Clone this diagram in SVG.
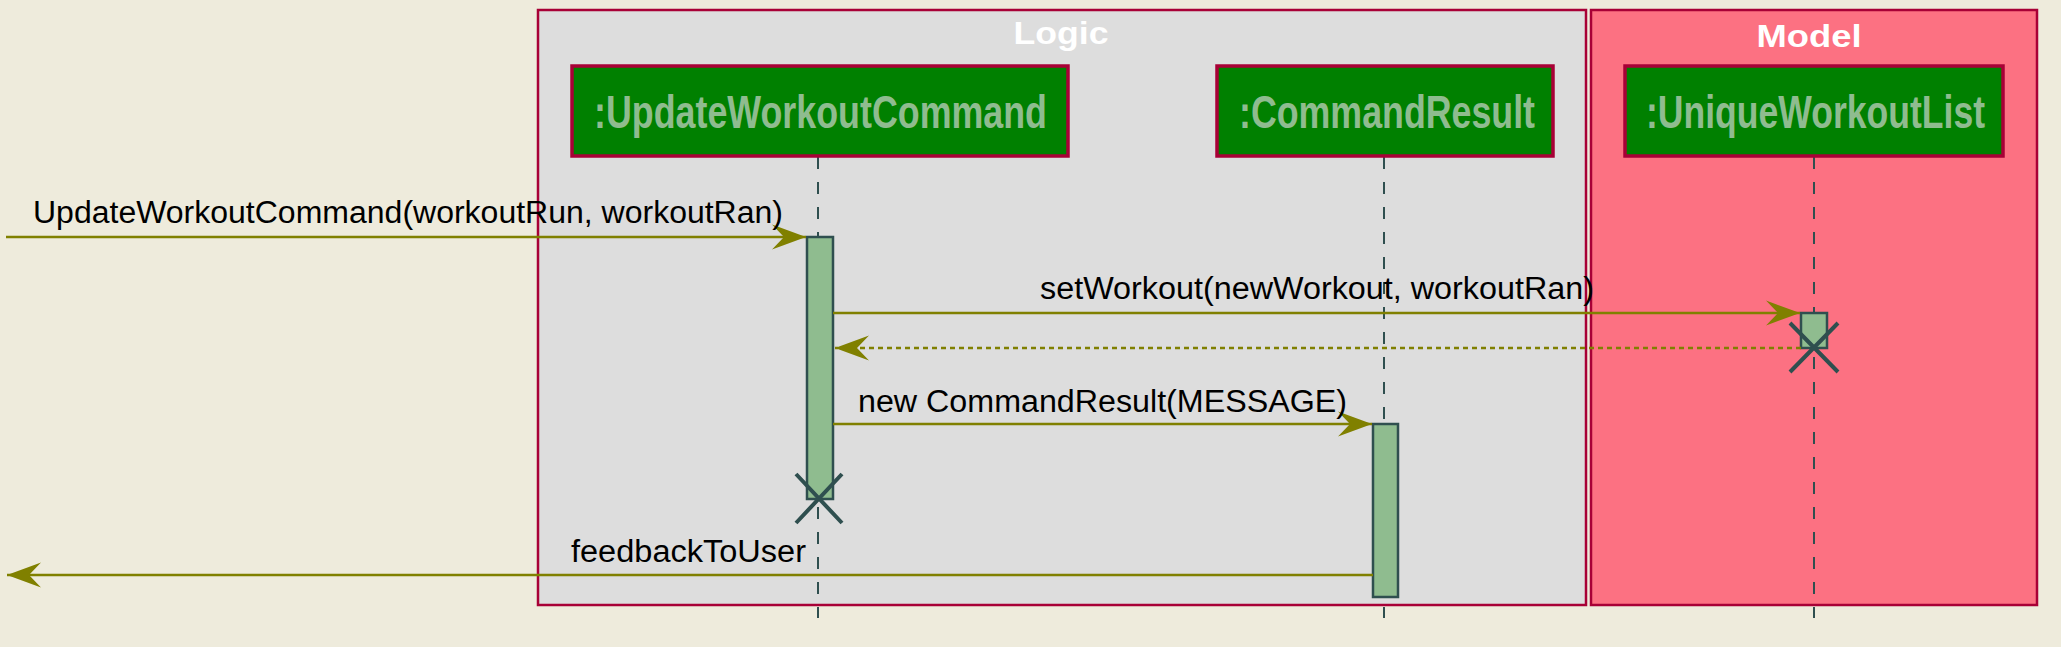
<svg xmlns="http://www.w3.org/2000/svg" width="2061" height="647" viewBox="0 0 2061 647">
  <style>
    .frame { stroke: #A80036; stroke-width: 2.5; }
    .ftitle { font-family: "Liberation Sans", Arial, sans-serif; font-weight: bold; font-size: 31px; fill: #FFFFFF; text-anchor: middle; }
    .pbox { fill: #008000; stroke: #A80036; stroke-width: 3.5; }
    .pname { font-family: "Liberation Sans", Arial, sans-serif; font-weight: bold; font-size: 34px; fill: #8FBC8F; }
    .life { stroke: #2F4F4F; stroke-width: 2; stroke-dasharray: 12 13; fill: none; }
    .act { fill: #8FBC8F; stroke: #2F4F4F; stroke-width: 2.5; }
    .kill { stroke: #2F4F4F; stroke-width: 4; fill: none; }
    .msg { stroke: #808000; stroke-width: 2.5; fill: none; marker-end: url(#ah); }
    .ret { stroke-dasharray: 5 4; }
    .mtext { font-family: "Liberation Sans", Arial, sans-serif; font-size: 31px; fill: #000000; }
  </style>
  <defs>
    <marker id="ah" markerUnits="userSpaceOnUse" markerWidth="40" markerHeight="30" viewBox="-36 -15 40 30" refX="0" refY="0" orient="auto">
      <path d="M0,0 L-34,-12.5 L-22,0 L-34,12.5 Z" fill="#808000"/>
    </marker>
  </defs>

  <rect x="0" y="0" width="2061" height="647" fill="#EEEBDC"/>

  <g id="group-logic">
    <rect class="frame" x="538" y="10" width="1048" height="595" fill="#DDDDDD"/>
    <text class="ftitle" x="1061" y="44" textLength="95" lengthAdjust="spacingAndGlyphs">Logic</text>
  </g>
  <g id="group-model">
    <rect class="frame" x="1591" y="10" width="446" height="595" fill="#FC7182"/>
    <text class="ftitle" x="1809" y="47" textLength="105" lengthAdjust="spacingAndGlyphs">Model</text>
  </g>

  <g id="lifelines">
    <line class="life" x1="818" y1="157" x2="818" y2="618"/>
    <line class="life" x1="1384" y1="157" x2="1384" y2="618"/>
    <line class="life" x1="1814" y1="157" x2="1814" y2="618"/>
  </g>

  <g id="node-updateworkoutcommand">
    <rect class="pbox" x="572" y="66" width="496" height="90"/>
    <text class="pname" transform="translate(594,128) scale(1,1.35)" x="0" y="0" textLength="453" lengthAdjust="spacingAndGlyphs">:UpdateWorkoutCommand</text>
    <rect class="act" x="807" y="237" width="26" height="262"/>
    <path class="kill" d="M796,474 L842,523 M842,474 L796,523"/>
  </g>

  <g id="node-commandresult">
    <rect class="pbox" x="1217" y="66" width="336" height="90"/>
    <text class="pname" transform="translate(1239,128) scale(1,1.35)" x="0" y="0" textLength="296" lengthAdjust="spacingAndGlyphs">:CommandResult</text>
    <rect class="act" x="1373" y="424" width="25" height="173"/>
  </g>

  <g id="node-uniqueworkoutlist">
    <rect class="pbox" x="1625" y="66" width="378" height="90"/>
    <text class="pname" transform="translate(1646,128) scale(1,1.35)" x="0" y="0" textLength="339" lengthAdjust="spacingAndGlyphs">:UniqueWorkoutList</text>
    <rect class="act" x="1801" y="313" width="26" height="35"/>
    <path class="kill" d="M1790,323 L1838,372 M1838,323 L1790,372"/>
  </g>

  <g id="connectors">
    <line class="msg" x1="6" y1="237" x2="806" y2="237"/>
    <text class="mtext" x="33" y="223" textLength="750" lengthAdjust="spacingAndGlyphs">UpdateWorkoutCommand(workoutRun, workoutRan)</text>

    <line class="msg" x1="833" y1="313" x2="1800" y2="313"/>
    <text class="mtext" x="1040" y="299" textLength="554" lengthAdjust="spacingAndGlyphs">setWorkout(newWorkout, workoutRan)</text>

    <line class="msg ret" x1="1801" y1="348" x2="835" y2="348"/>

    <line class="msg" x1="833" y1="424" x2="1372" y2="424"/>
    <text class="mtext" x="858" y="412" textLength="489" lengthAdjust="spacingAndGlyphs">new CommandResult(MESSAGE)</text>

    <line class="msg" x1="1373" y1="575" x2="7" y2="575"/>
    <text class="mtext" x="571" y="562" textLength="235" lengthAdjust="spacingAndGlyphs">feedbackToUser</text>
  </g>
</svg>
